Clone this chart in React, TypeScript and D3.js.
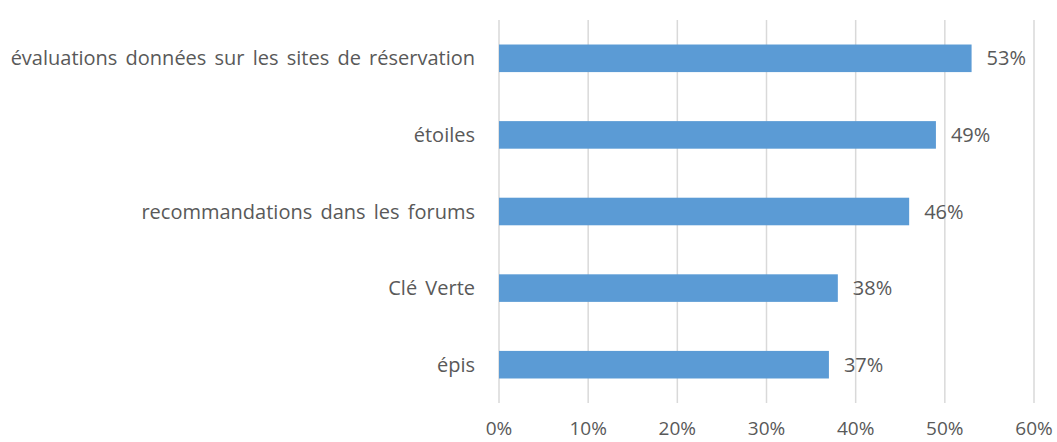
import React from 'react';
import * as d3 from 'd3';

const categories = [
  'évaluations données sur les sites de réservation',
  'étoiles',
  'recommandations dans les forums',
  'Clé Verte',
  'épis',
];
const values = [53, 49, 46, 38, 37];
const ticks = [0, 10, 20, 30, 40, 50, 60];

export default function App() {
  const width = 1057;
  const height = 442;
  const margin = { top: 20, right: 23, bottom: 39, left: 499 };

  const x = d3.scaleLinear().domain([0, 60]).range([margin.left, width - margin.right]);
  const y = d3
    .scaleBand()
    .domain(categories)
    .range([margin.top, height - margin.bottom])
    .paddingInner(0.64)
    .paddingOuter(0.32);

  const font = "'Open Sans', 'Liberation Sans', sans-serif";

  return (
    <svg
      width={width}
      height={height}
      style={{ position: 'absolute', left: 0, top: 0, background: '#fff' }}
      fontFamily={font}
    >
      {ticks.map(t => (
        <g key={t}>
          <line
            x1={x(t)}
            x2={x(t)}
            y1={margin.top}
            y2={height - margin.bottom}
            stroke="#d9d9d9"
            strokeWidth={1.5}
          />
          <text x={x(t)} y={435} textAnchor="middle" fontSize={19} fill="#595959">
            {t}%
          </text>
        </g>
      ))}
      {categories.map((c, i) => (
        <g key={c}>
          <rect
            x={x(0)}
            y={y(c)}
            width={x(values[i]) - x(0)}
            height={y.bandwidth()}
            fill="#5b9bd5"
          />
          <text
            x={x(0) - 24}
            y={(y(c) as number) + y.bandwidth() / 2}
            dy="0.35em"
            textAnchor="end"
            fontSize={20}
            wordSpacing={3}
            fill="#595959"
          >
            {c}
          </text>
          <text
            x={x(values[i]) + 15}
            y={(y(c) as number) + y.bandwidth() / 2}
            dy="0.35em"
            fontSize={20}
            fill="#595959"
          >
            {values[i]}%
          </text>
        </g>
      ))}
    </svg>
  );
}
